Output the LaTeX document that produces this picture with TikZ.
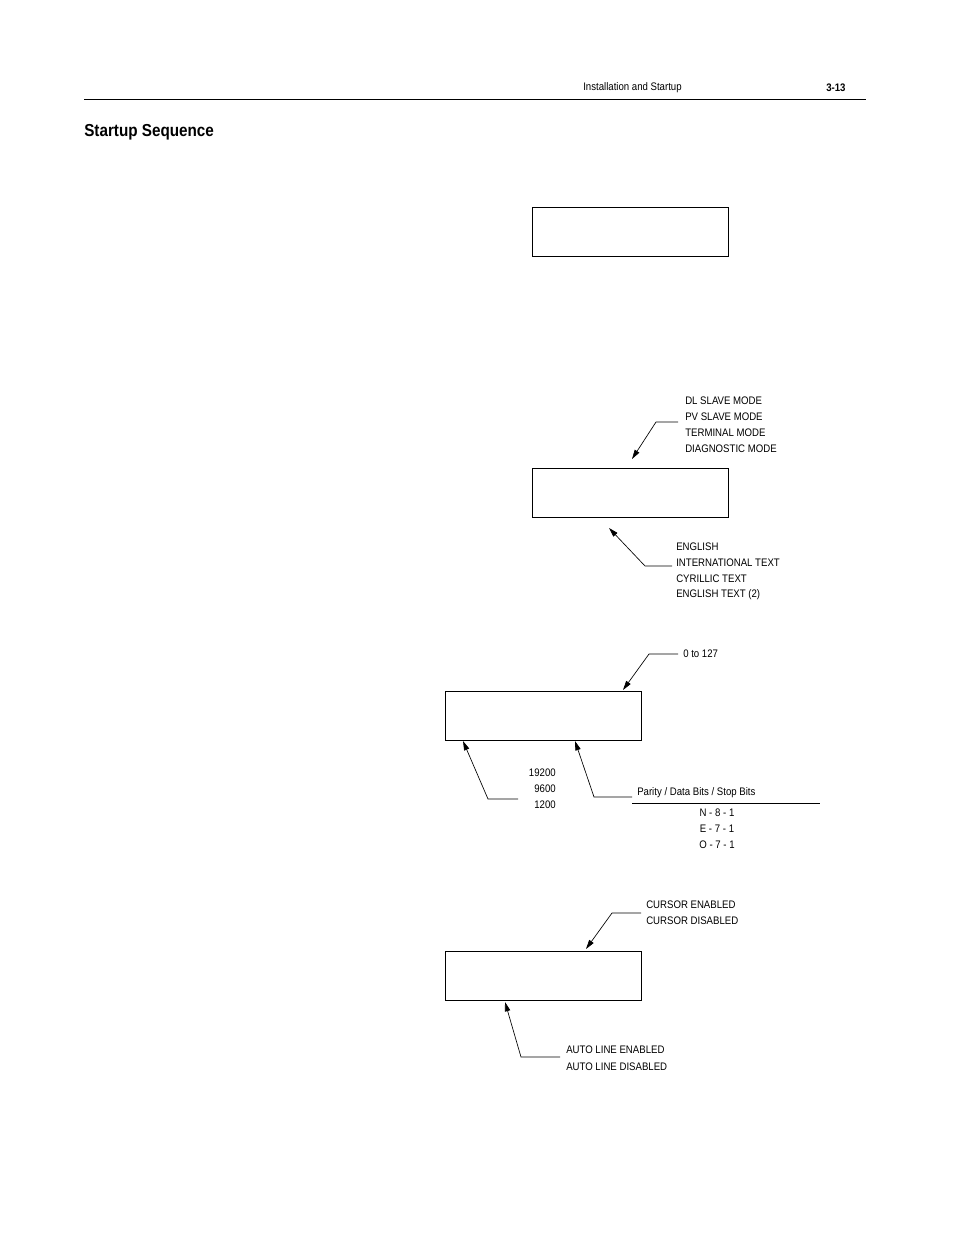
\documentclass[tikz,border=0pt]{standalone}
\usepackage{fontspec}
\setmainfont{Liberation Sans}[FakeStretch=0.88]
\usetikzlibrary{arrows.meta}

\begin{document}
\begin{tikzpicture}[x=0.75pt, y=-0.75pt, font=\fontsize{8.2}{10}\selectfont,
  screen/.style={draw, line width=0.6pt},
  leader/.style={line width=0.5pt, -{Triangle[length=7pt, width=4pt]}},
  txt/.style={inner sep=0pt, anchor=west}]

  \useasboundingbox (0,0) rectangle (954,1235);

  % Page header
  \node[txt] (hdr) at (583,88) {Installation and Startup};
  \node[txt, font=\fontsize{8.2}{10}\selectfont\bfseries] (pg) at (826,88) {3-13};
  \draw[line width=0.6pt] (84,99) -- (866,99);
  \node[txt, font=\fontsize{13}{15}\selectfont\bfseries] (title) at (84,132) {Startup Sequence};

  % Screens
  \draw[screen] (532,207) rectangle (728,256);
  \draw[screen] (532,468) rectangle (728,517);
  \draw[screen] (445,691) rectangle (641,740);
  \draw[screen] (445,951) rectangle (641,1000);

  % Mode list
  \foreach \t [count=\i] in {DL SLAVE MODE, PV SLAVE MODE, TERMINAL MODE, DIAGNOSTIC MODE}
    \node[txt] (mode\i) at (685,384+16.3*\i) {\t};
  \coordinate (mA) at (678,422);
  \draw[leader] (mA) -- (656,422) -- (632,459);

  % Language list
  \foreach \t [count=\i] in {ENGLISH, INTERNATIONAL TEXT, CYRILLIC TEXT, ENGLISH TEXT (2)}
    \node[txt] (lang\i) at (676,531+16*\i) {\t};
  \coordinate (lA) at (672,566);
  \draw[leader] (lA) -- (645,566) -- (609,528);

  % Address
  \node[txt] (addr) at (683,654) {0 to 127};
  \draw[leader] (678,654) -- (649,654) -- (623,690);

  % Baud rates
  \foreach \t [count=\i] in {19200, 9600, 1200}
    \node[inner sep=0pt, anchor=east] (baud\i) at (556,757+16*\i) {\t};
  \draw[leader] (518,799) -- (488,799) -- (463,741);

  % Parity
  \node[txt] (par) at (637,793) {Parity / Data Bits / Stop Bits};
  \draw[line width=0.5pt] (632,803) -- (820,803);
  \draw[leader] (632,797) -- (594,797) -- (575,741);
  \foreach \t [count=\i] in {N - 8 - 1, E - 7 - 1, O - 7 - 1}
    \node[inner sep=0pt] (fmt\i) at (717,797+16*\i) {\t};

  % Cursor
  \node[txt] (cur1) at (646,905) {CURSOR ENABLED};
  \node[txt] (cur2) at (646,921) {CURSOR DISABLED};
  \draw[leader] (641,913) -- (612,913) -- (586,949);

  % Auto line
  \node[txt] (auto1) at (566,1050) {AUTO LINE ENABLED};
  \node[txt] (auto2) at (566,1067) {AUTO LINE DISABLED};
  \draw[leader] (560,1057) -- (521,1057) -- (505,1002);

\end{tikzpicture}
\end{document}
